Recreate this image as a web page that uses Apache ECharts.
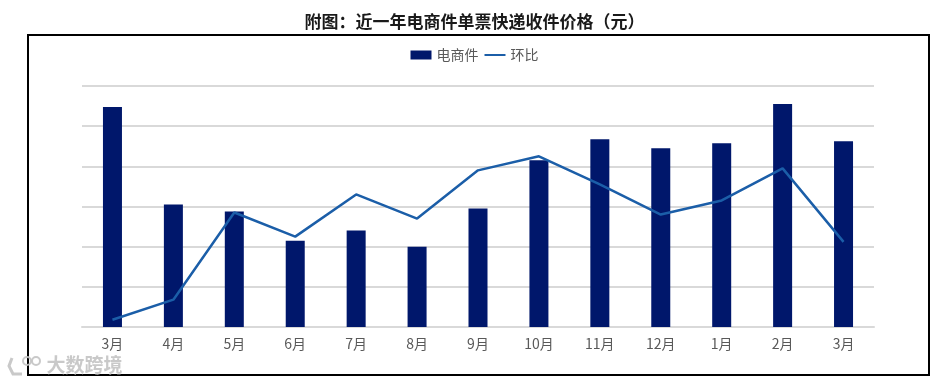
<!DOCTYPE html>
<html>
<head>
<meta charset="utf-8">
<script src="https://cdn.jsdelivr.net/npm/echarts@6/dist/echarts.min.js"></script>
<style>
html,body{margin:0;padding:0;background:#fff;}
#c{width:949px;height:387px;}
</style>
</head>
<body>
<div id="c"></div>
<script>
var categories = ['3月','4月','5月','6月','7月','8月','9月','10月','11月','12月','1月','2月','3月'];
var priceValues = [5.475, 3.05, 2.875, 2.15, 2.4, 2.0, 2.95, 4.15, 4.675, 4.45, 4.575, 5.55, 4.625];
var momValues = [-19.1, -16.6, -5.75, -8.75, -3.5, -6.5, -0.5, 1.25, -2.25, -6.0, -4.25, -0.25, -9.4];

var chart = echarts.init(document.getElementById('c'), null, {renderer: 'canvas'});
var font = '"Microsoft YaHei","Noto Sans CJK SC",sans-serif';
var wm = 'rgba(195,195,195,0.9)';
chart.setOption({
  backgroundColor: '#ffffff',
  animation: false,
  title: {
    text: '附图：近一年电商件单票快递收件价格（元）',
    left: 'center',
    top: 8,
    textStyle: {fontSize: 17, fontWeight: 'bold', color: '#1a1a1a', fontFamily: font}
  },
  legend: {
    top: 43,
    left: 'center',
    itemGap: 5,
    itemWidth: 21,
    itemHeight: 9,
    textStyle: {fontSize: 14, color: '#595959', fontFamily: font},
    data: [
      {name: '电商件', icon: 'rect'},
      {name: '环比', itemStyle: {opacity: 0}}
    ]
  },
  graphic: [
    {type: 'rect', shape: {x: 28, y: 35, width: 901, height: 340}, style: {fill: 'none', stroke: '#000', lineWidth: 2}, z: 100},
    {type: 'text', left: 46, top: 355, style: {text: '大数跨境', font: 'bold 19px "Noto Sans CJK SC",sans-serif', fill: wm, stroke: '#ffffff', lineWidth: 1}, z: 101},
    {type: 'polyline', shape: {points: [[12, 358], [9, 366], [13, 374], [22, 374]]}, style: {fill: 'none', stroke: wm, lineWidth: 3}, z: 101},
    {type: 'circle', shape: {cx: 27, cy: 361, r: 4}, style: {fill: 'none', stroke: wm, lineWidth: 2}, z: 101},
    {type: 'circle', shape: {cx: 36, cy: 361, r: 4}, style: {fill: 'none', stroke: wm, lineWidth: 2}, z: 101}
  ],
  grid: {left: 82, right: 75, top: 86, bottom: 60},
  xAxis: {
    type: 'category',
    data: categories,
    axisLine: {lineStyle: {color: '#d9d9d9', width: 2}},
    axisTick: {show: false},
    axisLabel: {color: '#595959', fontSize: 14, margin: 10, fontFamily: font}
  },
  yAxis: [
    {
      type: 'value', min: 0, max: 6, interval: 1,
      axisLabel: {show: false}, axisLine: {show: false}, axisTick: {show: false},
      splitLine: {lineStyle: {color: '#d9d9d9', width: 2}}
    },
    {
      type: 'value', min: -20, max: 10, interval: 5,
      axisLabel: {show: false}, axisLine: {show: false}, axisTick: {show: false},
      splitLine: {show: false}
    }
  ],
  series: [
    {
      name: '电商件', type: 'bar', data: priceValues, barWidth: 19,
      itemStyle: {color: '#00176b'}, yAxisIndex: 0
    },
    {
      name: '环比', type: 'line', data: momValues, yAxisIndex: 1,
      symbol: 'none', lineStyle: {color: '#1b5ea8', width: 2.5}, itemStyle: {color: '#1b5ea8'}
    }
  ]
});
</script>
</body>
</html>
